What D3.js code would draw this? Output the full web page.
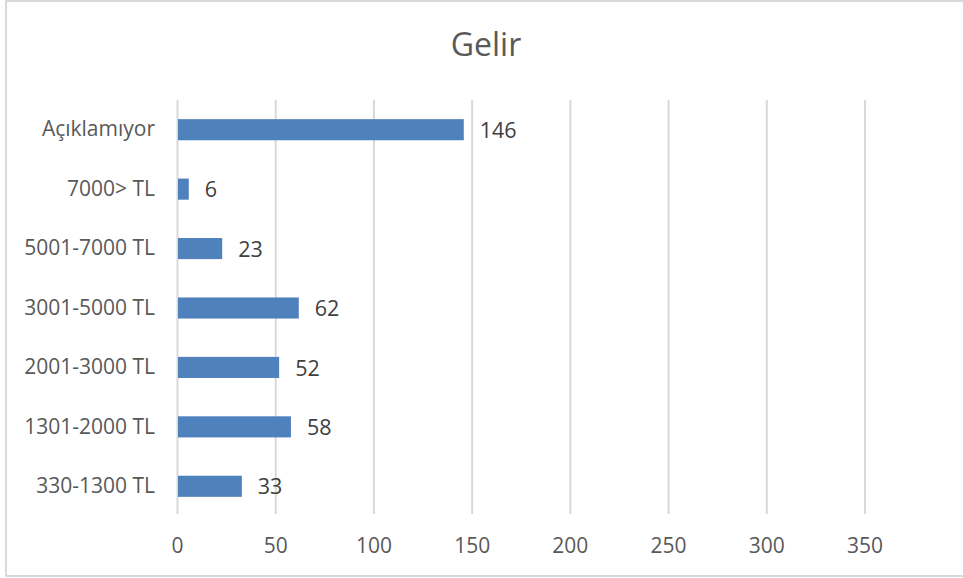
<!DOCTYPE html>
<html>
<head>
<meta charset="utf-8">
<script src="https://cdn.jsdelivr.net/npm/d3@7"></script>
<style>
  html, body { margin: 0; padding: 0; background: #fff; }
  svg { display: block; font-family: "Open Sans", "Noto Sans", sans-serif; }
</style>
</head>
<body>
<svg id="chart" width="963" height="578"></svg>
<script>
// Income groups (top to bottom) and respondent counts
const categories = ["Açıklamıyor", "7000> TL", "5001-7000 TL", "3001-5000 TL", "2001-3000 TL", "1301-2000 TL", "330-1300 TL"];
const counts = [146, 6, 23, 62, 52, 58, 33];
const xTicks = [0, 50, 100, 150, 200, 250, 300, 350];
const title = "Gelir";

const svg = d3.select("#chart");
const W = 963, H = 578;
const plot = { left: 177, right: 864.5, top: 100, bottom: 514 };

// Chart frame
svg.append("rect")
  .attr("x", 6).attr("y", 1)
  .attr("width", W + 10).attr("height", 575)
  .attr("fill", "#fff")
  .attr("stroke", "#d9d9d9").attr("stroke-width", 2);

// Title
svg.append("text")
  .attr("x", 486).attr("y", 56)
  .attr("text-anchor", "middle")
  .attr("font-size", 32)
  .attr("fill", "#595959")
  .text(title);

const x = d3.scaleLinear().domain([0, 350]).range([plot.left, plot.right]);
const y = d3.scaleBand().domain(categories).range([plot.top, plot.top + 416]).paddingInner(0.645).paddingOuter(0.3225);

// Vertical gridlines via the bottom axis
const grid = svg.append("g")
  .attr("transform", `translate(0,${plot.bottom})`)
  .call(d3.axisBottom(x).tickValues(xTicks).tickSize(-(plot.bottom - plot.top)).tickFormat(""));
grid.select(".domain").remove();
grid.selectAll(".tick line").attr("stroke", "#d9d9d9").attr("stroke-width", 2);

// Tick labels
const xAxis = svg.append("g")
  .attr("transform", `translate(0,${plot.bottom})`)
  .call(d3.axisBottom(x).tickValues(xTicks).tickSize(0).tickPadding(24));
xAxis.select(".domain").remove();
xAxis.selectAll("text")
  .attr("font-size", 21)
  .attr("font-family", "'Open Sans', sans-serif")
  .attr("fill", "#595959");

// Category labels
const yAxis = svg.append("g")
  .attr("transform", `translate(${plot.left},0)`)
  .call(d3.axisLeft(y).tickSize(0).tickPadding(22));
yAxis.select(".domain").remove();
yAxis.selectAll("text")
  .attr("font-size", 21)
  .attr("font-family", "'Open Sans', sans-serif")
  .attr("fill", "#595959");

// Bars
svg.append("g").selectAll("rect")
  .data(categories)
  .join("rect")
  .attr("x", x(0) + 1)
  .attr("y", d => y(d))
  .attr("width", (d, i) => x(counts[i]) - x(0) - 1)
  .attr("height", y.bandwidth())
  .attr("fill", "#4f81bd");

// Value labels
svg.append("g").selectAll("text")
  .data(categories)
  .join("text")
  .attr("x", (d, i) => x(counts[i]) + 16)
  .attr("y", d => y(d) + y.bandwidth() / 2)
  .attr("dy", "0.38em")
  .attr("font-size", 21.5)
  .attr("fill", "#404040")
  .text((d, i) => counts[i]);
</script>
</body>
</html>
